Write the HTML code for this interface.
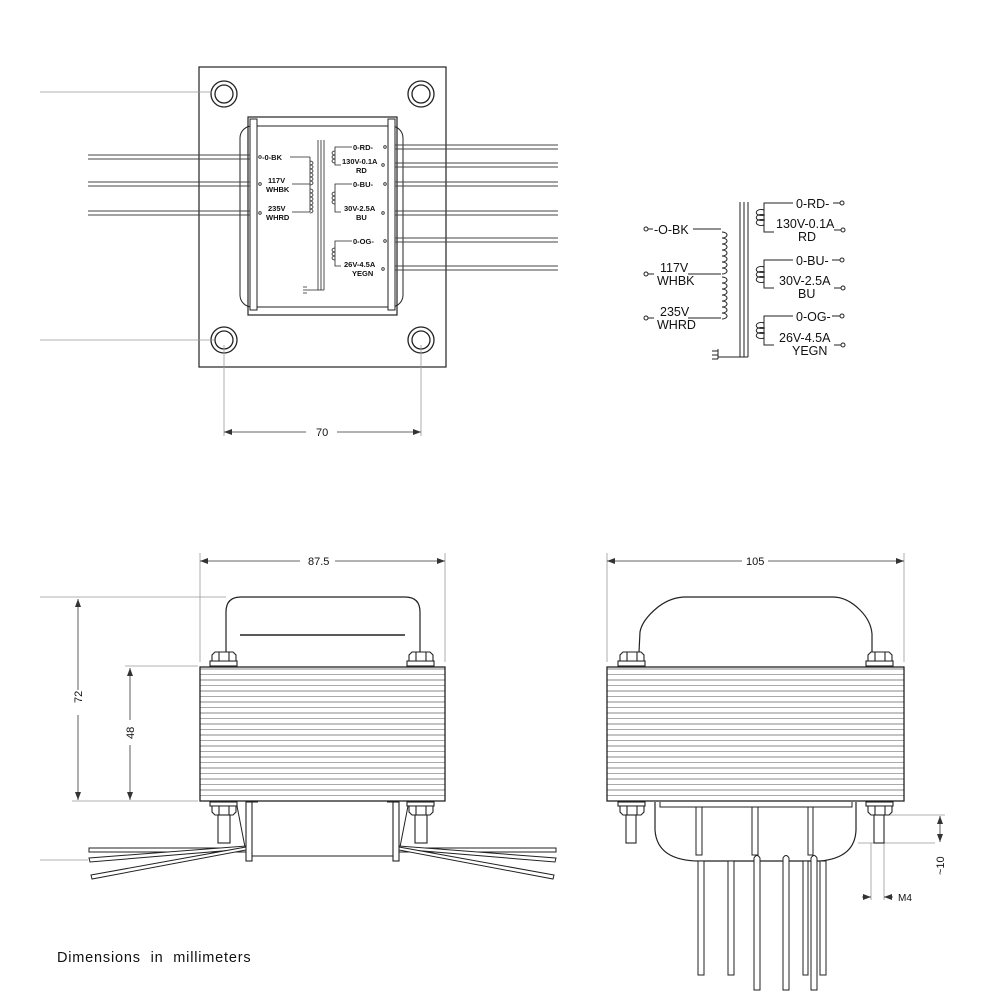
<!DOCTYPE html>
<html><head><meta charset="utf-8"><style>
html,body{margin:0;padding:0;background:#fff;}
svg{display:block;}
text{font-family:"Liberation Sans",sans-serif;fill:#111;}
</style></head><body>
<svg width="1000" height="1000" viewBox="0 0 1000 1000" xmlns="http://www.w3.org/2000/svg">
<defs>
<pattern id="stripes" x="0" y="667" width="10" height="11" patternUnits="userSpaceOnUse">
<rect width="10" height="11" fill="#fff"/>
<line x1="0" y1="2" x2="10" y2="2" stroke="#888" stroke-width="1"/>
<line x1="0" y1="7.5" x2="10" y2="7.5" stroke="#aaa" stroke-width="1"/>
</pattern>
<marker id="ar" markerWidth="8" markerHeight="6" refX="8" refY="3" orient="auto" markerUnits="userSpaceOnUse"><path d="M0,0 L8,3 L0,6 z" fill="#333"/></marker>
</defs>
<g fill="none" stroke="#222" stroke-width="1">
<!-- TOP VIEW -->
<rect x="199" y="67" width="247" height="300" stroke-width="1.2"/>
<g stroke-width="1.3">
<circle cx="224" cy="94" r="13"/><circle cx="224" cy="94" r="9"/>
<circle cx="421" cy="94" r="13"/><circle cx="421" cy="94" r="9"/>
<circle cx="224" cy="340" r="13"/><circle cx="224" cy="340" r="9"/>
<circle cx="421" cy="340" r="13"/><circle cx="421" cy="340" r="9"/>
</g>
<rect x="240" y="126" width="163" height="181" rx="12"/>
<rect x="248" y="117" width="149" height="198" stroke-width="1.2"/>
<rect x="250" y="119" width="7" height="191" fill="#fff"/>
<rect x="388" y="119" width="7" height="191" fill="#fff"/>
<g stroke="#999" stroke-width="0.8">
<line x1="40" y1="92" x2="212" y2="92"/>
<line x1="40" y1="340" x2="214" y2="340"/>
<line x1="224" y1="345" x2="224" y2="436"/>
<line x1="421" y1="345" x2="421" y2="436"/>
</g>
<line x1="306" y1="432" x2="224" y2="432" stroke="#333" stroke-width="0.8" marker-end="url(#ar)"/>
<line x1="337" y1="432" x2="421" y2="432" stroke="#333" stroke-width="0.8" marker-end="url(#ar)"/>
<g stroke="#444" stroke-width="1">
<line x1="88" y1="155" x2="250" y2="155"/><line x1="88" y1="159" x2="250" y2="159"/>
<line x1="88" y1="182" x2="250" y2="182"/><line x1="88" y1="186" x2="250" y2="186"/>
<line x1="88" y1="211" x2="250" y2="211"/><line x1="88" y1="215" x2="250" y2="215"/>
<line x1="395" y1="145" x2="558" y2="145"/><line x1="395" y1="149" x2="558" y2="149"/>
<line x1="395" y1="163" x2="558" y2="163"/><line x1="395" y1="167" x2="558" y2="167"/>
<line x1="395" y1="182" x2="558" y2="182"/><line x1="395" y1="186" x2="558" y2="186"/>
<line x1="395" y1="211" x2="558" y2="211"/><line x1="395" y1="215" x2="558" y2="215"/>
<line x1="395" y1="238" x2="558" y2="238"/><line x1="395" y1="242" x2="558" y2="242"/>
<line x1="395" y1="266" x2="558" y2="266"/><line x1="395" y1="270" x2="558" y2="270"/>
</g>
<g stroke-width="0.8">
<line x1="318" y1="140" x2="318" y2="290"/><line x1="321" y1="140" x2="321" y2="290"/><line x1="324" y1="140" x2="324" y2="290"/>
<line x1="307" y1="290" x2="324" y2="290"/><path d="M303,287 h4 M303,290 h4 M303,293 h4"/>
<line x1="290" y1="157" x2="310" y2="157"/><line x1="292" y1="184" x2="310" y2="184"/><line x1="292" y1="212" x2="310" y2="212"/>
<path d="M310,157 v55"/>
<path d="M310,161 a3,2 0 1 1 0,4 a3,2 0 1 1 0,4 a3,2 0 1 1 0,4 a3,2 0 1 1 0,4 a3,2 0 1 1 0,4 a3,2 0 1 1 0,4 M310,189 a3,2 0 1 1 0,4 a3,2 0 1 1 0,4 a3,2 0 1 1 0,4 a3,2 0 1 1 0,4 a3,2 0 1 1 0,4 a3,2 0 1 1 0,4"/>
<path d="M352,147 h-17 v18 h6 M352,184 h-17 v28 h6 M352,241 h-17 v25 h6"/>
<path d="M335,151 a3,2 0 1 0 0,4 a3,2 0 1 0 0,4 a3,2 0 1 0 0,4 M335,192 a3,2 0 1 0 0,4 a3,2 0 1 0 0,4 a3,2 0 1 0 0,4 M335,248 a3,2 0 1 0 0,4 a3,2 0 1 0 0,4 a3,2 0 1 0 0,4"/>
<circle cx="260" cy="157" r="1.3"/><circle cx="260" cy="184" r="1.3"/><circle cx="260" cy="213" r="1.3"/>
<circle cx="385" cy="147" r="1.3"/><circle cx="383" cy="165" r="1.3"/><circle cx="385" cy="184" r="1.3"/><circle cx="383" cy="213" r="1.3"/><circle cx="385" cy="241" r="1.3"/><circle cx="383" cy="269" r="1.3"/>
</g>
<!-- SCHEMATIC -->
<g stroke-width="1">
<line x1="740" y1="202" x2="740" y2="357"/><line x1="744" y1="202" x2="744" y2="357"/><line x1="748" y1="202" x2="748" y2="357"/>
<line x1="718" y1="357" x2="748" y2="357"/><path d="M712,351 h6 M712,355 h6 M712,359 h6 M718,349 v10"/>
<path d="M693,229 h28 M688,274 h33 M688,318 h33"/>
<path d="M722,232 a5,3 0 1 1 0,6 a5,3 0 1 1 0,6 a5,3 0 1 1 0,6 a5,3 0 1 1 0,6 a5,3 0 1 1 0,6 a5,3 0 1 1 0,6 a5,3 0 1 1 0,6 M722,277 a5,3 0 1 1 0,6 a5,3 0 1 1 0,6 a5,3 0 1 1 0,6 a5,3 0 1 1 0,6 a5,3 0 1 1 0,6 a5,3 0 1 1 0,6 a5,3 0 1 1 0,6"/>
<path d="M793,203 h-29 v29 h10 M793,260 h-29 v28 h10 M793,316 h-29 v29 h10"/>
<path d="M764,210 a5,3 0 1 0 0,5 a5,3 0 1 0 0,5 a5,3 0 1 0 0,5 M764,267 a5,3 0 1 0 0,5 a5,3 0 1 0 0,5 a5,3 0 1 0 0,5 M764,323 a5,3 0 1 0 0,5 a5,3 0 1 0 0,5 a5,3 0 1 0 0,5"/>
<circle cx="646" cy="229" r="2"/><circle cx="646" cy="274" r="2"/><circle cx="646" cy="318" r="2"/>
<circle cx="842" cy="203" r="2"/><circle cx="843" cy="230" r="2"/><circle cx="842" cy="260" r="2"/><circle cx="843" cy="288" r="2"/><circle cx="842" cy="316" r="2"/><circle cx="843" cy="345" r="2"/>
<path d="M648,229 h5 M648,274 h6 M648,318 h6 M833,203 h7 M832,260 h8 M832,316 h8 M834,230 h7 M834,288 h7 M834,345 h7"/>
</g>
<!-- FRONT VIEW -->
<g stroke="#999" stroke-width="0.8">
<line x1="200" y1="553" x2="200" y2="662"/><line x1="445" y1="553" x2="445" y2="662"/>
<line x1="40" y1="597" x2="226" y2="597"/>
<line x1="125" y1="666" x2="198" y2="666"/>
<line x1="72" y1="801" x2="198" y2="801"/>
<line x1="40" y1="860" x2="88" y2="860"/>
</g>
<g stroke="#333" stroke-width="0.8">
<line x1="300" y1="561" x2="200" y2="561" marker-end="url(#ar)"/><line x1="335" y1="561" x2="445" y2="561" marker-end="url(#ar)"/>
<line x1="78" y1="690" x2="78" y2="599" marker-end="url(#ar)"/><line x1="78" y1="715" x2="78" y2="800" marker-end="url(#ar)"/>
<line x1="130" y1="720" x2="130" y2="668" marker-end="url(#ar)"/><line x1="130" y1="745" x2="130" y2="800" marker-end="url(#ar)"/>
</g>
<path d="M226,652 V612 Q226,597 241,597 H405 Q420,597 420,612 V652" stroke-width="1.2"/>
<line x1="240" y1="635" x2="405" y2="635" stroke-width="1.5"/>
<rect x="200" y="667" width="245" height="134" fill="url(#stripes)" stroke-width="1.3"/>
<g stroke-width="1.1" fill="#fff">
<rect x="210" y="661" width="27" height="5"/><path d="M212,661 v-6 l3,-3 h18 l3,3 v6 Z M219,652 v9 M229,652 v9"/>
<rect x="407" y="661" width="27" height="5"/><path d="M409,661 v-6 l3,-3 h18 l3,3 v6 Z M416,652 v9 M426,652 v9"/>
<rect x="210" y="802" width="27" height="4"/><path d="M212,806 v6 l3,3 h18 l3,-3 v-6 Z M219,806 v9 M229,806 v9"/><rect x="218" y="815" width="12" height="28"/>
<rect x="407" y="802" width="27" height="4"/><path d="M409,806 v6 l3,3 h18 l3,-3 v-6 Z M416,806 v9 M426,806 v9"/><rect x="415" y="815" width="12" height="28"/>
</g>
<rect x="246" y="802" width="6" height="59" stroke-width="1.1"/>
<rect x="393" y="802" width="6" height="59" stroke-width="1.1"/>
<path d="M237,806 L245,847 M252,802 h6 M387,802 h6 M408,806 L400,847 M252,856 H393"/>
<g stroke-width="1">
<path d="M89,848 H246 V852 H89 Z" fill="#fff"/>
<path d="M89,858 L246,846 L246,849 L90,862 Z" fill="#fff"/>
<path d="M91,875 L246,847 L246,850 L92,879 Z" fill="#fff"/>
<path d="M556,848 H399 V852 H556 Z" fill="#fff"/>
<path d="M556,858 L399,846 L399,849 L555,862 Z" fill="#fff"/>
<path d="M554,875 L399,847 L399,850 L553,879 Z" fill="#fff"/>
</g>
<!-- SIDE VIEW -->
<g stroke="#999" stroke-width="0.8">
<line x1="607" y1="553" x2="607" y2="662"/><line x1="904" y1="553" x2="904" y2="662"/>
<line x1="885" y1="815" x2="945" y2="815"/><line x1="858" y1="843" x2="935" y2="843"/>
<line x1="871" y1="843" x2="871" y2="900"/><line x1="884" y1="843" x2="884" y2="900"/>
</g>
<g stroke="#333" stroke-width="0.8">
<line x1="742" y1="561" x2="607" y2="561" marker-end="url(#ar)"/><line x1="768" y1="561" x2="904" y2="561" marker-end="url(#ar)"/>
<line x1="940" y1="830" x2="940" y2="816" marker-end="url(#ar)"/><line x1="940" y1="830" x2="940" y2="842" marker-end="url(#ar)"/>
<line x1="862" y1="897" x2="871" y2="897" marker-end="url(#ar)"/><line x1="893" y1="897" x2="884" y2="897" marker-end="url(#ar)"/>
</g>
<path d="M639,652 L640,632 Q642,620 658,607 Q671,597 686,597 L833,597 Q847,597 860,610 Q871,621 872,634 L872,652" stroke-width="1.2"/>
<rect x="607" y="667" width="297" height="134" fill="url(#stripes)" stroke-width="1.3"/>
<g stroke-width="1.1" fill="#fff">
<rect x="618" y="661" width="27" height="5"/><path d="M620,661 v-6 l3,-3 h18 l3,3 v6 Z M627,652 v9 M637,652 v9"/>
<rect x="866" y="661" width="27" height="5"/><path d="M868,661 v-6 l3,-3 h18 l3,3 v6 Z M875,652 v9 M885,652 v9"/>
<rect x="618" y="802" width="27" height="4"/><path d="M620,806 v6 l3,3 h18 l3,-3 v-6 Z M627,806 v9 M637,806 v9"/><rect x="626" y="815" width="10" height="28"/>
<rect x="866" y="802" width="27" height="4"/><path d="M868,806 v6 l3,3 h18 l3,-3 v-6 Z M875,806 v9 M885,806 v9"/><rect x="874" y="815" width="10" height="28"/>
</g>
<path d="M655,802 V830 Q657,861 700,861 H820 Q855,858 856,830 V802" stroke-width="1.2"/>
<path d="M660,802 V807 H852 V802"/>
<path d="M696,807 V855 H702 V807 M752,807 V855 H758 V807 M808,807 V855 H813 V807"/>
<g stroke-width="1" fill="#fff">
<rect x="698" y="861" width="6" height="114"/>
<rect x="728" y="861" width="6" height="114"/>
<rect x="803" y="861" width="5" height="114"/>
<rect x="820" y="861" width="6" height="114"/>
<path d="M754,990 V858 Q757,853 760,858 V990 Z"/>
<path d="M783,990 V858 Q786,853 789,858 V990 Z"/>
<path d="M811,990 V858 Q814,853 817,858 V990 Z"/>
</g>
</g>
<g font-size="7.5" font-weight="bold">
<text x="262" y="160">-0-BK</text>
<text x="268" y="183">117V</text><text x="266" y="192">WHBK</text>
<text x="268" y="211">235V</text><text x="266" y="220">WHRD</text>
<text x="353" y="150">0-RD-</text>
<text x="342" y="164">130V-0.1A</text><text x="356" y="173">RD</text>
<text x="353" y="187">0-BU-</text>
<text x="344" y="211">30V-2.5A</text><text x="356" y="220">BU</text>
<text x="353" y="244">0-OG-</text>
<text x="344" y="267">26V-4.5A</text><text x="352" y="276">YEGN</text>
</g>
<g font-size="12.5">
<text x="654" y="234">-O-BK</text>
<text x="660" y="272">117V</text><text x="657" y="285">WHBK</text>
<text x="660" y="316">235V</text><text x="657" y="329">WHRD</text>
<text x="796" y="208">0-RD-</text>
<text x="776" y="228">130V-0.1A</text><text x="798" y="241">RD</text>
<text x="796" y="265">0-BU-</text>
<text x="779" y="285">30V-2.5A</text><text x="798" y="298">BU</text>
<text x="796" y="321">0-OG-</text>
<text x="779" y="342">26V-4.5A</text><text x="792" y="355">YEGN</text>
</g>
<g font-size="11">
<text x="316" y="436">70</text>
<text x="308" y="565">87.5</text>
<text x="746" y="565">105</text>
<text transform="translate(82,703) rotate(-90)">72</text>
<text transform="translate(134,739) rotate(-90)">48</text>
<text transform="translate(944,875) rotate(-90)">~10</text>
<text x="898" y="901" font-size="10">M4</text>
</g>
<text x="57" y="962" font-size="14.5" letter-spacing="0.8" word-spacing="5">Dimensions in millimeters</text>
</svg>
</body></html>
